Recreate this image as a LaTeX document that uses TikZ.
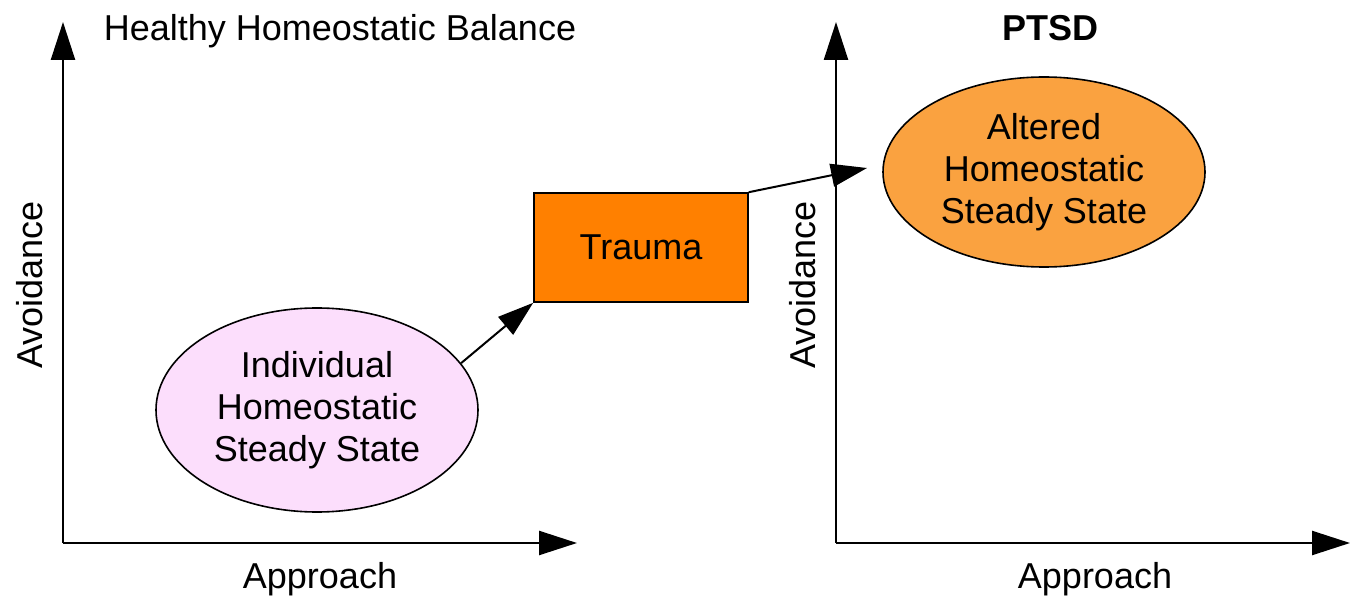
\documentclass[tikz,border=0pt]{standalone}
\usepackage{fontspec}
\setmainfont{Liberation Sans}
\usetikzlibrary{arrows.meta,shapes.geometric}
\definecolor{pinkfill}{RGB}{252,222,252}
\definecolor{traumaorange}{RGB}{255,128,0}
\definecolor{alteredorange}{RGB}{250,162,64}
\begin{document}
\begin{tikzpicture}[x=1pt,y=-1pt,
  font=\fontsize{36}{42}\selectfont,
  axis/.style={line width=2.4pt,-{Triangle[length=38pt,width=24pt]}},
  conn/.style={line width=2pt,-{Triangle[length=36pt,width=23pt]}},
  stateell/.style={ellipse,draw,line width=1.6pt,minimum width=322pt,minimum height=204pt,inner sep=0pt,align=center},
  lbl/.style={inner sep=0pt}]
\useasboundingbox (0,0) rectangle (1360,601);
% left axes
\coordinate (o1) at (63,543);
\coordinate (y1) at (63,22);
\coordinate (x1) at (577,543);
\draw[axis] (o1) -- (y1);
\draw[axis] (o1) -- (x1);
% right axes
\coordinate (o2) at (836,543);
\coordinate (y2) at (836,22);
\coordinate (x2) at (1350,543);
\draw[axis] (o2) -- (y2);
\draw[axis] (o2) -- (x2);
% titles and axis labels
\node[lbl,anchor=base] (t1) at (340,41) {Healthy Homeostatic Balance};
\node[lbl,anchor=base,font=\fontsize{36}{42}\selectfont\bfseries] (t2) at (1050,41) {PTSD};
\node[lbl,anchor=base] (ax1) at (320,588) {Approach};
\node[lbl,anchor=base] (ax2) at (1095,588) {Approach};
\node[lbl,anchor=base,rotate=90] (av1) at (42,285) {Avoidance};
\node[lbl,anchor=base,rotate=90] (av2) at (815,285) {Avoidance};
% nodes
\node[stateell,fill=pinkfill] (L) at (317,410) {Individual\\Homeostatic\\Steady State};
\node[draw,line width=1.6pt,fill=traumaorange,minimum width=214pt,minimum height=109pt,inner sep=0pt] (T) at (641,247.5) {Trauma};
\node[stateell,fill=alteredorange,minimum height=190pt] (R) at (1044,172) {Altered\\Homeostatic\\Steady State};
% connectors
\coordinate (rt) at (867,168);
\draw[conn] (L.18) -- (T.south west);
\draw[conn] (T.north east) -- (rt);
\end{tikzpicture}
\end{document}
